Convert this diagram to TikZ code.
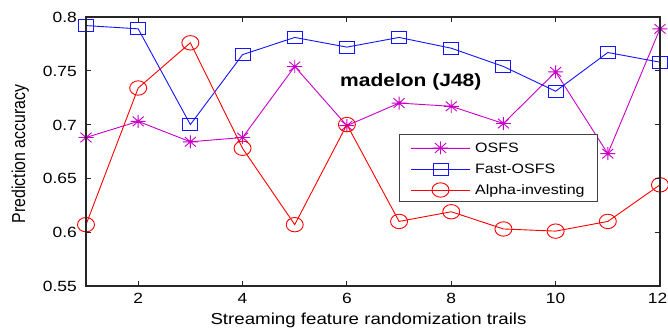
\documentclass[tikz,border=0pt]{standalone}
\usepackage{fontspec}
\setmainfont{Liberation Sans}
\usepackage{graphicx}
\definecolor{osfsc}{RGB}{200,0,200}
\definecolor{fastc}{RGB}{20,20,255}
\definecolor{alphac}{RGB}{255,0,0}
\pgfdeclareplotmark{ast}{%
 \pgfpathmoveto{\pgfqpoint{-7.5pt}{0pt}}\pgfpathlineto{\pgfqpoint{7.5pt}{0pt}}%
 \pgfpathmoveto{\pgfqpoint{0pt}{-6.5pt}}\pgfpathlineto{\pgfqpoint{0pt}{6.5pt}}%
 \pgfpathmoveto{\pgfqpoint{-5.5pt}{-4.8pt}}\pgfpathlineto{\pgfqpoint{5.5pt}{4.8pt}}%
 \pgfpathmoveto{\pgfqpoint{-5.5pt}{4.8pt}}\pgfpathlineto{\pgfqpoint{5.5pt}{-4.8pt}}%
 \pgfusepathqstroke
 \pgfpathcircle{\pgfpointorigin}{1.8pt}\pgfusepathqfill}
\pgfdeclareplotmark{sq}{%
 \pgfpathrectangle{\pgfqpoint{-7.5pt}{-6pt}}{\pgfqpoint{15pt}{12pt}}\pgfusepathqstroke}
\pgfdeclareplotmark{ell}{%
 \pgfpathellipse{\pgfpointorigin}{\pgfqpoint{8.5pt}{0pt}}{\pgfqpoint{0pt}{7.2pt}}\pgfusepathqstroke}
\newcommand\sqz[1]{\scalebox{1}[0.85]{#1}}
\tikzset{
 osfs/.style={draw=osfsc, fill=osfsc, line width=0.9pt},
 fast/.style={draw=fastc, line width=0.9pt},
 alpha/.style={draw=alphac, line width=0.9pt},
 ticklab/.style={font=\fontsize{17.4}{20}\selectfont, inner sep=0pt},
 leglab/.style={font=\fontsize{16}{19}\selectfont, inner sep=0pt, anchor=base west},
 axisline/.style={draw=black!85, line width=1.2pt}
}
\begin{document}
\begin{tikzpicture}[x=1pt,y=1pt]
\useasboundingbox (0,0) rectangle (668,328);
\fill[white] (0,0) rectangle (668,328);
% data
\begin{scope}[shift={(33.82pt,-549.8pt)}, x=52.18pt, y=1076pt]
 \draw[osfs, fill=none] plot[mark=ast, mark options={fill=osfsc}] coordinates {(1,0.688) (2,0.703) (3,0.684) (4,0.688) (5,0.754) (6,0.699) (7,0.720) (8,0.717) (9,0.701) (10,0.749) (11,0.673) (12,0.789)};
 \draw[fast] plot[mark=sq] coordinates {(1,0.792) (2,0.789) (3,0.700) (4,0.765) (5,0.781) (6,0.772) (7,0.781) (8,0.771) (9,0.754) (10,0.731) (11,0.767) (12,0.758)};
 \draw[alpha] plot[mark=ell] coordinates {(1,0.607) (2,0.734) (3,0.776) (4,0.678) (5,0.607) (6,0.700) (7,0.610) (8,0.619) (9,0.603) (10,0.601) (11,0.610) (12,0.644)};
\end{scope}
% axes box and ticks
\draw[axisline] (86,42) rectangle (660,311);
\foreach \i in {2,4,...,12}{
 \pgfmathsetmacro\xx{33.82+52.18*\i}
 \draw[axisline, line width=1pt] (\xx,42) -- (\xx,47);
 \draw[axisline, line width=1pt] (\xx,311) -- (\xx,306);
}
\foreach \i in {2,4,...,10}{
 \pgfmathsetmacro\xx{33.82+52.18*\i}
 \node[ticklab, anchor=base] (xt\i) at (\xx,24) {\sqz{\i}};
}
\node[ticklab, anchor=base east] (xt12) at (667.5,24) {\sqz{12}};
\foreach \v/\l in {0.55/0.55,0.60/0.6,0.65/0.65,0.70/0.7,0.75/0.75,0.80/0.8}{
 \pgfmathsetmacro\yy{-549.8+1076*\v}
 \draw[axisline, line width=1pt] (86,\yy) -- (91,\yy);
 \draw[axisline, line width=1pt] (660,\yy) -- (655,\yy);
 \node[ticklab, anchor=base east] (yt\l) at (77,\yy-5.5) {\sqz{\l}};
}
% axis labels
\node[font=\fontsize{18.7}{22}\selectfont, inner sep=0pt, anchor=base] (xlab) at (368.5,3.6) {\sqz{Streaming feature randomization trails}};
\node[font=\fontsize{18.7}{22}\selectfont, inner sep=0pt, anchor=base, rotate=90] (ylab) at (25,174) {\scalebox{0.85}[1]{Prediction accuracy}};
% title
\node[font=\fontsize{21}{24}\selectfont\bfseries, inner sep=0pt, anchor=base west] (title) at (340,241) {\sqz{madelon (J48)}};
% legend
\draw[draw=black!75, fill=white, line width=1pt] (399,126) rectangle (597,193);
\draw[osfs] (411,180) -- (470,180);
\path[osfs] plot[mark=ast] coordinates {(440.5,180)};
\draw[fast] (411,159) -- (470,159);
\path[fast] plot[mark=sq] coordinates {(440.5,159)};
\draw[alpha] (411,138) -- (470,138);
\path[alpha] plot[mark=ell] coordinates {(440.5,138)};
\node[leglab] (l1) at (475,175) {\sqz{OSFS}};
\node[leglab] (l2) at (475,154) {\sqz{Fast-OSFS}};
\node[leglab] (l3) at (475,133) {\sqz{Alpha-investing}};
\end{tikzpicture}
\end{document}
